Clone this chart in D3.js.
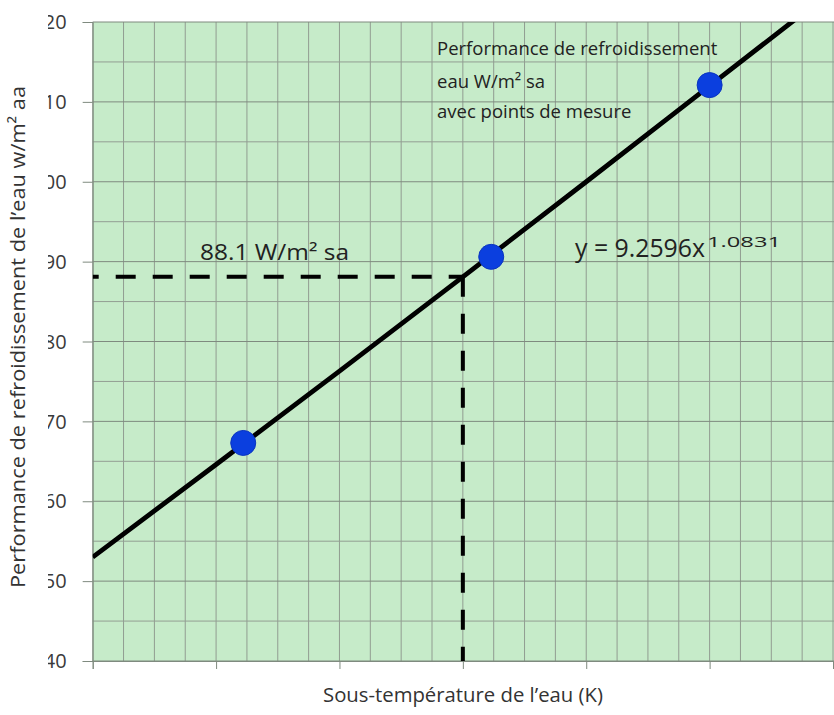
<!DOCTYPE html>
<html><head><meta charset="utf-8">
<script src="https://cdn.jsdelivr.net/npm/d3@7"></script>
<style>
html,body{margin:0;padding:0;background:#fff;}
svg{display:block;}
</style></head>
<body>
<svg id="chart" width="834" height="715"></svg>
<script>
// ---- data ----
const xTicks = [5, 6, 7, 8, 9, 10, 11];
const yTicks = [40, 50, 60, 70, 80, 90, 100, 110, 120];
const measX = [6.22, 8.23, 10.0];
const measY = [67.3, 90.6, 112.1];
const fitX = [5, 6, 7, 8, 9, 10, 11];
const fitY = [53.0, 64.6, 76.3, 88.1, 100.0, 112.0, 124.0];
const readX = 8.0;
const readY = 88.1;
const yTitle = "Performance de refroidissement de l\u2019eau w/m\u00B2 aa";
const xTitle = "Sous-temp\u00E9rature de l\u2019eau (K)";
const noteLines = ["Performance de refroidissement", "eau W/m\u00B2 sa", "avec points de mesure"];
const readLabel = "88.1 W/m\u00B2 sa";
const eqMain = "y = 9.2596x";
const eqExp = "1.0831";

// ---- layout ----
const L = 92.7, R = 833, T = 22, B = 661;
const FONT = "'Open Sans', sans-serif";
const svg = d3.select("#chart");
const x = d3.scaleLinear().domain([5, 11]).range([L, R]);
const y = d3.scaleLinear().domain([40, 120]).range([B, T]);

svg.append("rect").attr("x", L).attr("y", T).attr("width", 834 - L).attr("height", B - T).attr("fill", "#c6ebc9");

const defs = svg.append("defs");
defs.append("clipPath").attr("id", "plotclip").append("rect")
  .attr("x", L).attr("y", T).attr("width", 834 - L).attr("height", B - T);
defs.append("clipPath").attr("id", "ylabclip").append("rect")
  .attr("x", 48).attr("y", 0).attr("width", 40).attr("height", 715);

// grid
const gx = d3.range(5, 11.001, 0.25);
const gy = d3.range(40, 120.001, 5);
svg.append("g").selectAll("line").data(gx).join("line")
  .attr("x1", d => x(d)).attr("x2", d => x(d)).attr("y1", T).attr("y2", B)
  .attr("stroke", "#919c91").attr("stroke-width", 1);
svg.append("g").selectAll("line").data(gy).join("line")
  .attr("x1", L).attr("x2", 834).attr("y1", d => y(d)).attr("y2", d => y(d))
  .attr("stroke", d => d % 10 === 0 ? "#7f8a7f" : "#939e93").attr("stroke-width", 1);

// y axis
const yAxis = d3.axisLeft(y).tickValues(yTicks).tickSize(10).tickPadding(14);
const gY = svg.append("g").attr("transform", `translate(${L},0)`).call(yAxis);
gY.select(".domain").attr("stroke", "#7f8a7f");
gY.selectAll(".tick line").attr("stroke", "#7f8a7f");
const yLabs = svg.append("g").attr("clip-path", "url(#ylabclip)");
gY.selectAll(".tick").each(function(d){
  const t = d3.select(this).select("text");
  yLabs.append("text").attr("x", L - 26).attr("y", y(d)).attr("dy", "0.36em")
    .attr("text-anchor", "end").attr("font-family", FONT)
    .attr("font-size", 20).attr("fill", "#3a3a3a").text(t.text());
  t.remove();
});

// x axis (tick labels are washed out in the reference)
const xAxis = d3.axisBottom(x).tickValues(xTicks).tickSize(8).tickFormat("");
const gX = svg.append("g").attr("transform", `translate(0,${B})`).call(xAxis);
gX.select(".domain").attr("stroke", "#7f8a7f");
gX.selectAll(".tick line").attr("stroke", "#7f8a7f");

// plot content
const plot = svg.append("g").attr("clip-path", "url(#plotclip)");

plot.append("line").attr("x1", L).attr("x2", x(readX)).attr("y1", y(readY)).attr("y2", y(readY))
  .attr("stroke", "#000").attr("stroke-width", 4).attr("stroke-dasharray", "20,17").attr("stroke-dashoffset", 14);
plot.append("line").attr("x1", x(readX)).attr("x2", x(readX)).attr("y1", y(readY)).attr("y2", B)
  .attr("stroke", "#000").attr("stroke-width", 4).attr("stroke-dasharray", "20,17");

const fit = fitX.map((d, i) => [d, fitY[i]]);
plot.append("path").datum(fit)
  .attr("d", d3.line().x(d => x(d[0])).y(d => y(d[1])).curve(d3.curveMonotoneX))
  .attr("fill", "none").attr("stroke", "#000").attr("stroke-width", 4.8);

plot.append("g").selectAll("circle").data(measX.map((d, i) => [d, measY[i]])).join("circle")
  .attr("cx", d => x(d[0])).attr("cy", d => y(d[1])).attr("r", 12.5)
  .attr("fill", "#0b3fdf").attr("stroke", "#0a35c0").attr("stroke-width", 1);

// annotations
const noteY = [55, 88, 118];
const note = svg.append("text").attr("font-family", FONT).attr("font-size", 18.5).attr("fill", "#222");
noteLines.forEach((s, i) => note.append("tspan").attr("x", 437).attr("y", noteY[i]).text(s));

svg.append("text").attr("x", 200).attr("y", 260).attr("font-family", FONT)
  .attr("font-size", 22).attr("fill", "#222").attr("textLength", 149).attr("lengthAdjust", "spacingAndGlyphs").text(readLabel);

const eq = svg.append("text").attr("x", 575).attr("y", 257).attr("font-family", FONT)
  .attr("font-size", 25).attr("fill", "#222");
eq.append("tspan").attr("textLength", 130).attr("lengthAdjust", "spacingAndGlyphs").text(eqMain);
eq.append("tspan").attr("dx", 2).attr("dy", -10).attr("font-size", 15)
  .attr("textLength", 74).attr("lengthAdjust", "spacingAndGlyphs").text(eqExp);

// axis titles
svg.append("text").attr("transform", "translate(25,337) rotate(-90)").attr("text-anchor", "middle")
  .attr("font-family", FONT).attr("font-size", 20).attr("fill", "#333")
  .attr("textLength", 502).attr("lengthAdjust", "spacingAndGlyphs").text(yTitle);
svg.append("text").attr("x", 463).attr("y", 702).attr("text-anchor", "middle")
  .attr("font-family", FONT).attr("font-size", 20).attr("fill", "#333")
  .attr("textLength", 280).attr("lengthAdjust", "spacingAndGlyphs").text(xTitle);
</script>
</body></html>
